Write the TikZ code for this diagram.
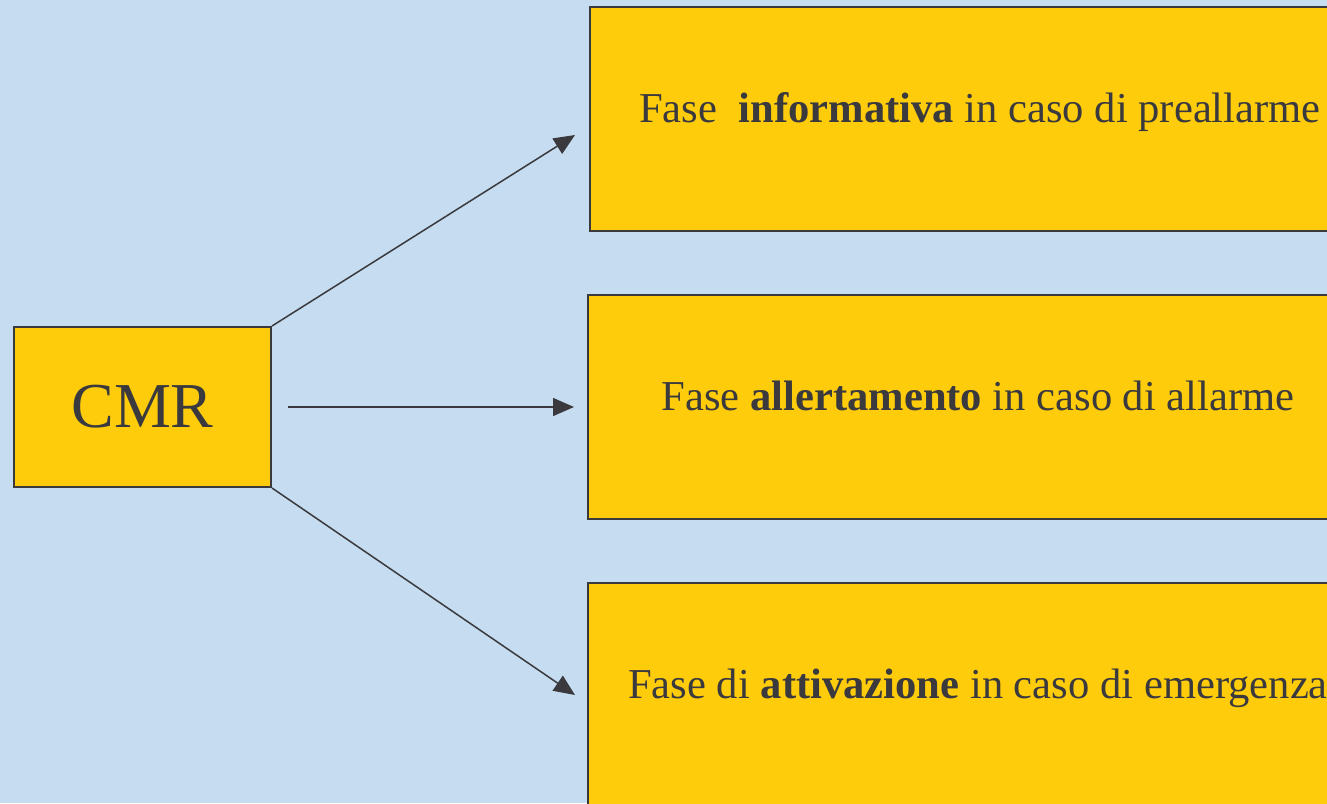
\documentclass[tikz,border=0pt]{standalone}
\usepackage{fontspec}
\setmainfont{Liberation Serif}
\usepackage{tikz}
\usetikzlibrary{calc,positioning,arrows.meta}
\definecolor{sfondo}{RGB}{198,220,240}
\definecolor{giallo}{RGB}{254,204,10}
\definecolor{grigio}{RGB}{58,58,62}
\tikzset{
  cmrbox/.style={rectangle, draw=grigio, fill=giallo, line width=2pt, minimum width=257pt, minimum height=160pt, text=grigio, font=\fontsize{64}{70}\selectfont},
  fase/.style={rectangle, draw=grigio, fill=giallo, line width=2pt, minimum width=780pt, minimum height=224pt, inner sep=0pt, text=grigio, text height=20pt, text depth=14pt, font=\fontsize{42.6}{50}\selectfont},
  line/.style={draw=grigio, line width=1.5pt, -{Triangle[length=21pt,width=18pt]}}
}
\begin{document}
\begin{tikzpicture}[x=1pt,y=-1pt]
    % sfondo
    \fill[sfondo] (0,0) rectangle (1327,803);
    \useasboundingbox (0,0) rectangle (1327,803);
    \clip (0,0) rectangle (1327,803);

    \node[cmrbox] (cmr) at (142.5,407) {CMR};

    \node[fase] (info) at (980,119) {Fase~ \textbf{informativa} in caso di preallarme};
    \node[fase] (allert) at (978,407) {Fase \textbf{allertamento} in caso di allarme};
    \node[fase] (attiv) at (978,695) {Fase di \textbf{attivazione} in caso di emergenza};

    \coordinate (pinfo) at (575,135);
    \coordinate (pattiv) at (575,695);

    \begin{scope}[every path/.style=line]
      \path (cmr.north east) -- (pinfo);
      \path[shorten <=16pt, shorten >=13pt] (cmr.east) -- (allert.west);
      \path (cmr.south east) -- (pattiv);
    \end{scope}
\end{tikzpicture}
\end{document}
